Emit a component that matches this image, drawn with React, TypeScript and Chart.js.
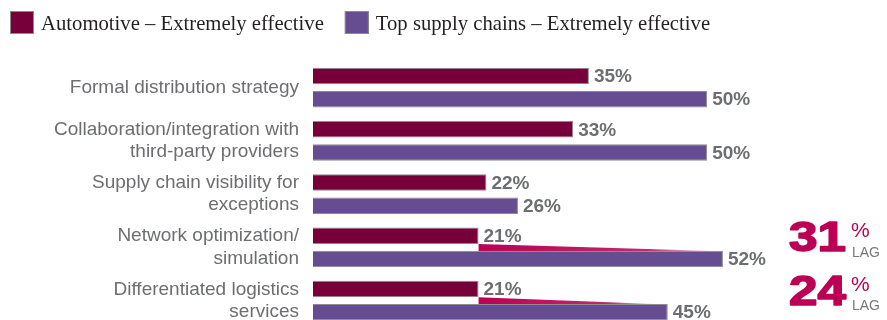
import React, { useEffect, useRef } from "react";
import { Chart, registerables } from "chart.js";

Chart.register(...registerables);

const categories: (string | string[])[] = [
  "Formal distribution strategy",
  ["Collaboration/integration with", "third-party providers"],
  ["Supply chain visibility for", "exceptions"],
  ["Network optimization/", "simulation"],
  ["Differentiated logistics", "services"],
];
const automotive = [35, 33, 22, 21, 21];
const topSupply = [50, 50, 26, 52, 45];
const lagValues: (number | null)[] = [null, null, null, 31, 24];
const seriesNames = [
  "Automotive – Extremely effective",
  "Top supply chains – Extremely effective",
];

const MAROON = "#77003b";
const PURPLE = "#664d91";
const CRIMSON = "#bb0055";
const BORDER = "#8c8c8c";
const GRAY = "#6d6e71";
const SANS = '"Liberation Sans", Helvetica, Arial, sans-serif';
const SERIF = '"Liberation Serif", "Times New Roman", serif';

const W = 887;
const H = 340;

const legendPlugin = {
  id: "customLegend",
  afterDraw(chart: any) {
    const ctx = chart.ctx;
    ctx.save();
    ctx.font = `20.7px ${SERIF}`;
    ctx.textBaseline = "alphabetic";
    ctx.textAlign = "left";
    let x = 10;
    chart.data.datasets.forEach((ds: any) => {
      ctx.fillStyle = ds.backgroundColor;
      ctx.fillRect(x, 11, 24, 23);
      ctx.strokeStyle = BORDER;
      ctx.lineWidth = 1;
      ctx.strokeRect(x + 0.5, 11.5, 23, 22);
      ctx.fillStyle = "#231f20";
      ctx.fillText(ds.label, x + 31, 30);
      x += 31 + ctx.measureText(ds.label).width + 21;
    });
    ctx.restore();
  },
};

const wedgePlugin = {
  id: "lagWedge",
  beforeDatasetsDraw(chart: any) {
    const ctx = chart.ctx;
    const m0 = chart.getDatasetMeta(0);
    const m1 = chart.getDatasetMeta(1);
    ctx.save();
    lagValues.forEach((lag, i) => {
      if (lag == null) return;
      const a = m0.data[i];
      const b = m1.data[i];
      const ax = a.x;
      const ay = a.y + a.height / 2;
      const bx = b.x;
      const by = b.y - b.height / 2;
      const g = ctx.createLinearGradient(ax, 0, bx, 0);
      g.addColorStop(0, "rgba(187,0,85,1)");
      g.addColorStop(0.7, "rgba(187,0,85,0.85)");
      g.addColorStop(1, "rgba(187,0,85,0)");
      ctx.fillStyle = g;
      ctx.beginPath();
      ctx.moveTo(ax, ay);
      ctx.lineTo(ax, by + 0.5);
      ctx.lineTo(bx, by + 0.5);
      ctx.closePath();
      ctx.fill();
    });
    ctx.restore();
  },
};

const valueLabelPlugin = {
  id: "valueLabels",
  afterDatasetsDraw(chart: any) {
    const ctx = chart.ctx;
    ctx.save();
    ctx.font = `bold 19px ${SANS}`;
    ctx.fillStyle = GRAY;
    ctx.textAlign = "left";
    ctx.textBaseline = "middle";
    chart.data.datasets.forEach((ds: any, di: number) => {
      const meta = chart.getDatasetMeta(di);
      meta.data.forEach((bar: any, i: number) => {
        ctx.fillText(`${ds.data[i]}%`, bar.x + 5, bar.y + 1);
      });
    });
    ctx.restore();
  },
};

const lagPlugin = {
  id: "lagNotes",
  afterDraw(chart: any) {
    const ctx = chart.ctx;
    const yScale = chart.scales.y;
    const x0 = chart.chartArea.right + 3;
    ctx.save();
    ctx.textAlign = "left";
    ctx.textBaseline = "alphabetic";
    lagValues.forEach((lag, i) => {
      if (lag == null) return;
      const cy = yScale.getPixelForValue(i);
      const txt = String(lag);
      ctx.fillStyle = CRIMSON;
      ctx.strokeStyle = CRIMSON;
      ctx.font = `bold 42px ${SANS}`;
      const sx = 1.22;
      const tw = ctx.measureText(txt).width * sx;
      ctx.save();
      ctx.translate(x0, cy + 4);
      ctx.scale(sx, 1);
      ctx.lineWidth = 1.6;
      ctx.lineJoin = "round";
      ctx.fillText(txt, 0, 0);
      ctx.strokeText(txt, 0, 0);
      ctx.restore();
      const nx = x0 + tw + 5;
      ctx.font = `21px ${SANS}`;
      ctx.fillText("%", nx, cy - 10);
      ctx.fillStyle = "#77787b";
      ctx.font = `14px ${SANS}`;
      ctx.fillText("LAG", nx + 1, cy + 9.5);
    });
    ctx.restore();
  },
};

export default function App() {
  const ref = useRef<HTMLCanvasElement | null>(null);

  useEffect(() => {
    if (!ref.current) return;
    const chart = new Chart(ref.current, {
      type: "bar",
      data: {
        labels: categories as any,
        datasets: [
          {
            label: seriesNames[0],
            data: automotive,
            backgroundColor: MAROON,
            borderColor: BORDER,
            borderWidth: 1,
            categoryPercentage: 0.871,
            barPercentage: 0.71,
          },
          {
            label: seriesNames[1],
            data: topSupply,
            backgroundColor: PURPLE,
            borderColor: BORDER,
            borderWidth: 1,
            categoryPercentage: 0.871,
            barPercentage: 0.71,
          },
        ],
      },
      options: {
        indexAxis: "y",
        responsive: false,
        animation: false,
        devicePixelRatio: 1,
        layout: { padding: { left: 0, right: 101, top: 61, bottom: 12.75 } },
        plugins: {
          legend: { display: false },
          tooltip: { enabled: false },
        },
        scales: {
          x: { type: "linear", min: 0, max: 60, display: false },
          y: {
            type: "category",
            grid: { display: false, drawTicks: false },
            border: { display: false },
            ticks: {
              color: GRAY,
              font: { family: SANS, size: 19, lineHeight: 1.17 },
              padding: 14,
              autoSkip: false,
            },
            afterFit: (s: any) => {
              s.width = 313;
              s.paddingTop = 0;
              s.paddingBottom = 0;
            },
          },
        },
      } as any,
      plugins: [wedgePlugin, valueLabelPlugin, lagPlugin, legendPlugin],
    });
    return () => chart.destroy();
  }, []);

  return (
    <div
      style={{
        position: "absolute",
        left: 0,
        top: 0,
        width: W,
        height: 320,
        overflow: "hidden",
        background: "#fff",
      }}
    >
      <canvas ref={ref} width={W} height={H} style={{ display: "block", width: W, height: H }} />
    </div>
  );
}
